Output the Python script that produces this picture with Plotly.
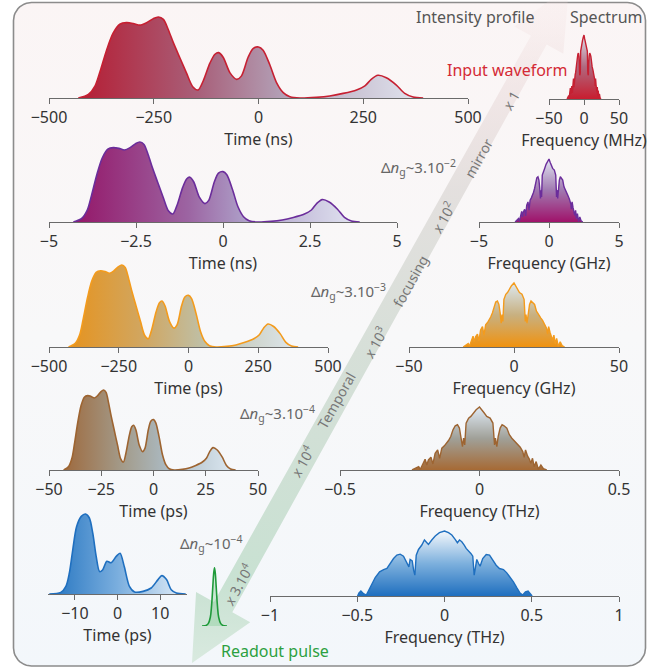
import numpy as np
import plotly.graph_objects as go

W, H = 664, 670

# ---------------- data ----------------
# input intensity profile (red panel, time in ns, normalised intensity)
profile_ns = [-430, -406, -390, -378, -362, -347, -331, -315, -299, -283, -267, -251, -239, -227,
              -215, -203, -188, -172, -157, -144, -132, -116, -104, -95, -84, -68, -52, -41, -25,
              -13, 0, 11, 27, 43, 59, 75, 99, 138, 170, 202, 234, 254, 269, 285, 305, 329, 349,
              369, 393]
profile_int = [0, 0.045, 0.15, 0.33, 0.60, 0.80, 0.91, 0.93, 0.92, 0.90, 0.93, 0.98, 1.0, 0.97,
               0.84, 0.68, 0.50, 0.31, 0.14, 0.10, 0.21, 0.43, 0.54, 0.56, 0.50, 0.31, 0.23, 0.27,
               0.50, 0.61, 0.63, 0.59, 0.41, 0.19, 0.066, 0.016, 0, 0.008, 0.025, 0.057, 0.10,
               0.15, 0.23, 0.28, 0.25, 0.16, 0.057, 0.012, 0]

# last (blue) intensity profile, time in ps
blue_ps = [-16, -13.3, -12.1, -11.3, -10.5, -9.6, -8.5, -7.5, -6.6, -5.8, -5.0, -4.2, -3.5, -2.5,
           -1.5, -0.3, 0.6, 1.6, 2.8, 4.0, 6.0, 7.9, 9.5, 10.4, 11.5, 12.6, 13.8, 16]
blue_int = [0, 0.02, 0.095, 0.26, 0.55, 0.84, 0.97, 1.0, 0.95, 0.76, 0.47, 0.28, 0.30, 0.41,
            0.39, 0.47, 0.51, 0.34, 0.095, 0.025, 0.033, 0.075, 0.18, 0.23, 0.18, 0.054, 0.012, 0]

# input spectrum (red panel, frequency in MHz)
spectrum_mhz = [-24.2, -23.0, -21.8, -21.2, -20.3, -19.5, -18.9, -18.3, -17.4, -16.7, -15.9, -15.0,
                -14.3, -13.5, -12.6, -11.9, -11.1, -10.3, -9.5, -8.7, -7.9, -7.2, -6.6, -6.1, -5.7,
                -5.3, -4.8, -3.9, -3.1, -2.1, -1.2, 0.0, 0.8, 1.7, 2.6, 3.8, 4.8, 5.4, 5.7, 6.2,
                6.7, 7.4, 8.1, 8.8, 9.8, 10.7, 11.6, 12.8, 13.6, 14.6, 15.5, 16.0, 16.5, 17.2,
                17.9, 18.4, 19.0, 19.6, 20.3, 21.1, 22.0, 22.9, 24.1]
spectrum_int = [0, 0.027, 0.053, 0.011, 0.106, 0.170, 0.080, 0.160, 0.202, 0.096, 0.266, 0.319,
                0.186, 0.346, 0.383, 0.415, 0.468, 0.532, 0.638, 0.702, 0.718, 0.665, 0.532,
                0.372, 0.505, 0.399, 0.745, 0.824, 0.851, 0.915, 0.957, 1.0, 0.947, 0.904, 0.851,
                0.824, 0.745, 0.399, 0.505, 0.372, 0.532, 0.665, 0.718, 0.702, 0.665, 0.559,
                0.505, 0.452, 0.415, 0.362, 0.293, 0.202, 0.319, 0.223, 0.170, 0.106, 0.186,
                0.053, 0.133, 0.011, 0.080, 0.021, 0]

# last (blue) spectrum, frequency in THz
blue_thz = [-0.498, -0.490, -0.479, -0.464, -0.448, -0.435, -0.416, -0.397, -0.372, -0.349,
            -0.330, -0.311, -0.292, -0.273, -0.254, -0.235, -0.216, -0.204, -0.197, -0.185,
            -0.177, -0.170, -0.162, -0.149, -0.130, -0.115, -0.101, -0.092, -0.073, -0.053,
            -0.029, 0.0, 0.023, 0.042, 0.061, 0.074, 0.086, 0.099, 0.113, 0.124, 0.151, 0.162,
            0.170, 0.177, 0.185, 0.195, 0.204, 0.219, 0.239, 0.258, 0.277, 0.296, 0.315, 0.338,
            0.357, 0.376, 0.395, 0.414, 0.433, 0.448, 0.464, 0.479, 0.494, 0.502]
blue_spec_int = [0, 0.046, 0.077, 0.036, 0.015, 0.088, 0.191, 0.284, 0.371, 0.407, 0.423, 0.5,
                 0.577, 0.629, 0.644, 0.613, 0.5, 0.448, 0.562, 0.541, 0.397, 0.320, 0.629,
                 0.716, 0.784, 0.861, 0.820, 0.794, 0.861, 0.923, 0.974, 1.0, 0.974, 0.938,
                 0.871, 0.820, 0.861, 0.835, 0.784, 0.732, 0.655, 0.613, 0.320, 0.448, 0.562,
                 0.5, 0.459, 0.577, 0.639, 0.629, 0.552, 0.474, 0.423, 0.407, 0.356, 0.294,
                 0.216, 0.129, 0.046, 0.015, 0.062, 0.077, 0.036, 0]

# readout pulse (arbitrary time units)
readout_t = [-3, -2, -1.5, -1, -0.7, -0.4, -0.2, 0, 0.2, 0.4, 0.7, 1, 1.5, 2, 3]
readout_int = [0, 0.01, 0.04, 0.15, 0.35, 0.68, 0.9, 1, 0.9, 0.68, 0.35, 0.15, 0.04, 0.01, 0]

# compression factors of the temporal mirror stages and labels
compression = [1, 1e2, 1e3, 1e4]
time_units = ["ns", "ns", "ps", "ps"]
freq_units = ["MHz", "GHz", "GHz", "THz"]
time_ticks = [[-500, -250, 0, 250, 500], [-5, -2.5, 0, 2.5, 5], [-500, -250, 0, 250, 500],
              [-50, -25, 0, 25, 50], [-10, 0, 10]]
freq_ticks = [[-50, 0, 50], [-5, 0, 5], [-50, 0, 50], [-0.5, 0, 0.5], [-1, -0.5, 0, 0.5, 1]]
time_ranges = [[-500, 500], [-5, 5], [-500, 500], [-50, 50], [-16.3, 16.3]]
freq_ranges = [[-50, 50], [-5, 5], [-50, 50], [-0.5, 0.5], [-1, 1]]
header_labels = ["Intensity profile", "Spectrum", "Input waveform", "Readout pulse"]
dn_labels = ["Δ<i>n</i><sub>g</sub>~3.10<sup>−2</sup>", "Δ<i>n</i><sub>g</sub>~3.10<sup>−3</sup>",
             "Δ<i>n</i><sub>g</sub>~3.10<sup>−4</sup>", "Δ<i>n</i><sub>g</sub>~10<sup>−4</sup>"]
arrow_labels = ["<i>x</i> 1", "mirror", "<i>x</i> 10<sup>2</sup>", "focusing",
                "<i>x</i> 10<sup>3</sup>", "Temporal", "<i>x</i> 10<sup>4</sup>",
                "<i>x</i> 3.10<sup>4</sup>"]

# ---------------- layout geometry / styles (pixels) ----------------
FONT = "Noto Sans"
prof_box = [(49, 468, 98, 17), (49, 397, 222, 142), (49, 328, 347, 265), (49, 258, 470, 390),
            (48, 187, 594, 514)]
spec_box = [(549, 619, 99, 35), (479, 619, 222, 159), (409, 619, 347, 283), (340, 619, 470, 407),
            (270, 619, 596, 531)]
line_cols = ["#c62032", "#6b2d9b", "#f39b1d", "#9d6431", "#1f6fbf"]
prof_scales = [
    [[0, "#b51d33"], [0.35, "#a8607a"], [0.6, "#b3a2b8"], [1, "#e2e6f0"]],
    [[0, "#941668"], [0.4, "#9c64a2"], [0.6, "#ad9fc8"], [1, "#e3e6f2"]],
    [[0, "#e6931e"], [0.35, "#cfa866"], [0.6, "#bec1aa"], [1, "#dee7ee"]],
    [[0, "#9e6a3e"], [0.35, "#a39c8c"], [0.6, "#abbac2"], [1, "#dde9f3"]],
    [[0, "#2474c0"], [0.5, "#7aaede"], [1, "#e3eef8"]],
]
spec_scales = [
    [[0, "#c81d2f"], [0.5, "#b0687e"], [1, "#dde0ec"]],
    [[0, "#a0126a"], [0.5, "#a078b0"], [1, "#e2e6f2"]],
    [[0, "#f0920f"], [0.5, "#c8b080"], [1, "#dce8f0"]],
    [[0, "#a66a35"], [0.5, "#a0a098"], [1, "#dfeaf5"]],
    [[0, "#1f6fbf"], [0.5, "#7db0dd"], [1, "#f4f8fc"]],
]


def px(x):
    return x / W


def py(y):
    return 1 - y / H


fig = go.Figure()
layout = dict(width=W, height=H, margin=dict(l=0, r=0, t=0, b=0),
              paper_bgcolor="white", plot_bgcolor="rgba(0,0,0,0)", showlegend=False,
              font=dict(family=FONT, size=16, color="#333"))

# background axis in pixel coordinates
layout["xaxis"] = dict(domain=[0, 1], range=[0, W], visible=False, fixedrange=True)
layout["yaxis"] = dict(domain=[0, 1], range=[H, 0], visible=False, fixedrange=True)

# rounded frame
x0, x1, y0, y1, r = 13.5, 645.5, 2.5, 666, 18
pts = []
for cx, cy, a0 in [(x1 - r, y0 + r, -90), (x1 - r, y1 - r, 0), (x0 + r, y1 - r, 90),
                   (x0 + r, y0 + r, 180)]:
    for a in np.linspace(a0, a0 + 90, 12):
        pts.append((cx + r * np.cos(np.radians(a)), cy + r * np.sin(np.radians(a))))
pts.append(pts[0])
fx, fy = zip(*pts)
fig.add_trace(go.Scatter(x=fx, y=fy, xaxis="x", yaxis="y", mode="lines", fill="toself",
                         line=dict(color="#8c8c8c", width=1.6),
                         fillgradient=dict(type="vertical", start=H, stop=0,
                                           colorscale=[[0, "#f3f7fb"], [0.5, "#f8f8f9"],
                                                       [1, "#fbf5f5"]]),
                         hoverinfo="skip"))

# big double arrow
T = np.array([192.0, 663.0])
Ttop = np.array([569.0, -14.0])
u = (T - Ttop) / np.linalg.norm(T - Ttop)
n = np.array([-u[1], u[0]])
B1 = T - 64 * u
B2 = Ttop + 62 * u
poly = [T, B1 + 31 * n, B1 + 10.5 * n, B2 + 9 * n, B2 + 28 * n, Ttop, B2 - 28 * n, B2 - 9 * n,
        B1 - 10.5 * n, B1 - 31 * n, T]
ax_, ay_ = zip(*[tuple(p) for p in poly])
fig.add_trace(go.Scatter(x=ax_, y=ay_, xaxis="x", yaxis="y", mode="lines", fill="toself",
                         line=dict(width=0, color="rgba(0,0,0,0)"),
                         fillgradient=dict(type="vertical", start=663, stop=-14,
                                           colorscale=[[0, "rgba(214,232,220,0.9)"],
                                                       [0.12, "rgba(198,224,208,0.95)"],
                                                       [0.45, "rgba(212,222,214,0.95)"],
                                                       [0.7, "rgba(222,218,216,0.8)"],
                                                       [0.86, "rgba(232,214,214,0.45)"],
                                                       [1, "rgba(246,226,226,0.12)"]]),
                         hoverinfo="skip"))


def x_axis(box, rng, ticks, title, anchor):
    return dict(domain=[px(box[0]), px(box[1])], range=rng, anchor=anchor,
                showline=True, linecolor="#6a6a6a", linewidth=1.3, ticks="outside",
                ticklen=5, tickwidth=1.3, tickcolor="#6a6a6a", tickvals=ticks,
                showgrid=False, zeroline=False, fixedrange=True, automargin=False,
                tickfont=dict(family=FONT, size=16, color="#333"),
                title=dict(text=title, font=dict(family=FONT, size=16, color="#333"),
                           standoff=4))


def y_axis(box, anchor):
    h = box[2] - box[3]
    top = box[3] - 2
    return dict(domain=[py(box[2]), py(top)], range=[0, 1 + 2 / h], anchor=anchor,
                visible=False, fixedrange=True)


idx = 2
# intensity profiles
for i in range(5):
    if i < 4:
        fac = 1.0 if time_units[i] == "ns" else 1000.0
        tx = [t / compression[i] * fac for t in profile_ns]
        ty = profile_int
        title = "Time (%s)" % time_units[i]
    else:
        tx, ty, title = blue_ps, blue_int, "Time (ps)"
    xa, ya = "x%d" % idx, "y%d" % idx
    layout["xaxis%d" % idx] = x_axis(prof_box[i], time_ranges[i], time_ticks[i], title, ya)
    layout["yaxis%d" % idx] = y_axis(prof_box[i], xa)
    fig.add_trace(go.Scatter(x=tx, y=ty, xaxis=xa, yaxis=ya, mode="lines", fill="tozeroy",
                             line=dict(color=line_cols[i], width=1.6, shape="spline",
                                       smoothing=0.8),
                             fillgradient=dict(type="horizontal", colorscale=prof_scales[i]),
                             hoverinfo="skip"))
    idx += 1

# spectra
for i in range(5):
    if i < 4:
        div = {"MHz": 1.0, "GHz": 1e3, "THz": 1e6}[freq_units[i]]
        fxv = [f * compression[i] / div for f in spectrum_mhz]
        fyv = spectrum_int
        title = "Frequency (%s)" % freq_units[i]
    else:
        fxv, fyv, title = blue_thz, blue_spec_int, "Frequency (THz)"
    xa, ya = "x%d" % idx, "y%d" % idx
    layout["xaxis%d" % idx] = x_axis(spec_box[i], freq_ranges[i], freq_ticks[i], title, ya)
    layout["yaxis%d" % idx] = y_axis(spec_box[i], xa)
    fig.add_trace(go.Scatter(x=fxv, y=fyv, xaxis=xa, yaxis=ya, mode="lines", fill="tozeroy",
                             line=dict(color=line_cols[i], width=1.4),
                             fillgradient=dict(type="vertical", colorscale=spec_scales[i]),
                             hoverinfo="skip"))
    idx += 1

# readout pulse
xa, ya = "x%d" % idx, "y%d" % idx
layout["xaxis%d" % idx] = dict(domain=[px(202), px(227)], range=[-3, 3], visible=False,
                               anchor=ya, fixedrange=True)
layout["yaxis%d" % idx] = dict(domain=[py(626), py(566)], range=[0, 1.03], visible=False,
                               anchor=xa, fixedrange=True)
fig.add_trace(go.Scatter(x=readout_t, y=readout_int, xaxis=xa, yaxis=ya, mode="lines",
                         fill="tozeroy", fillcolor="rgba(120,200,140,0.35)",
                         line=dict(color="#1f9a3a", width=1.6, shape="spline"),
                         hoverinfo="skip"))

# ---------------- text ----------------
ann = []


def add_text(text, x, y, size, color, angle=0):
    ann.append(dict(text=text, x=x, y=y, xref="x", yref="y", showarrow=False,
                    xanchor="center", yanchor="middle", textangle=angle,
                    font=dict(family=FONT, size=size, color=color)))


header_pos = [(475, 17), (606, 17), (507, 70), (275, 651)]
header_cols = ["#555", "#555", "#d42a35", "#2ca040"]
for lab, (x, y), c in zip(header_labels, header_pos, header_cols):
    add_text(lab, x, y, 16, c)
dn_pos = [(418, 167), (348, 291), (277, 413), (211, 543)]
for lab, (x, y) in zip(dn_labels, dn_pos):
    add_text(lab, x, y, 15, "#666")
arrow_pos = [(510, 101), (478, 158), (443, 218), (410, 281), (375, 343), (336, 400),
             (302, 462), (238, 585)]
for lab, (x, y) in zip(arrow_labels, arrow_pos):
    add_text(lab, x, y, 14, "#777", -60.8)

layout["annotations"] = ann
fig.update_layout(**layout)
fig.write_html("out.html", config={"displayModeBar": False},
               post_script="document.body.style.margin='0px';")
